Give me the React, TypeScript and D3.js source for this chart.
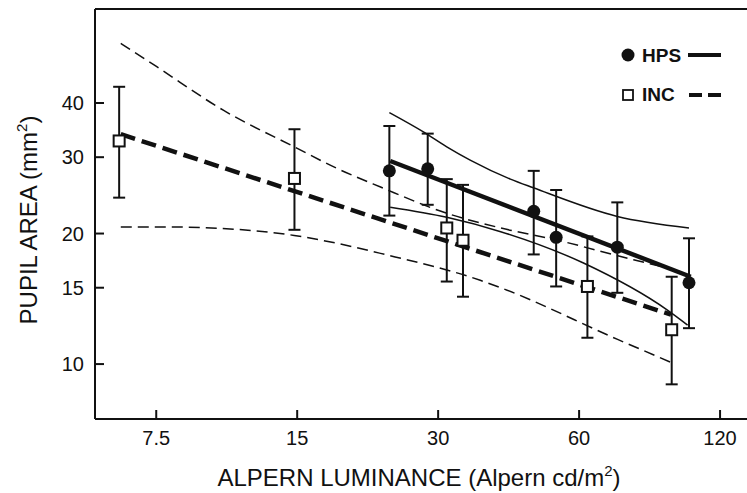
import React from "react";
import * as d3 from "d3";

// Axis ticks
const xTicks = [7.5, 15, 30, 60, 120];
const yTicks = [10, 15, 20, 30, 40];

// HPS (filled circles)
const hpsLum = [23.6, 28.5, 48.0, 53.6, 72.4, 103];
const hpsArea = [27.9, 28.2, 22.5, 19.6, 18.6, 15.4];
const hpsHigh = [35.4, 34.0, 27.9, 25.2, 23.6, 19.5];
const hpsLow = [22.0, 23.3, 17.9, 15.1, 14.6, 12.1];

// INC (open squares)
const incLum = [6.25, 14.8, 31.3, 33.9, 62.5, 94.6];
const incArea = [32.7, 26.8, 20.6, 19.3, 15.1, 12.0];
const incHigh = [43.6, 34.8, 26.7, 25.9, 19.7, 15.9];
const incLow = [24.2, 20.4, 15.5, 14.3, 11.5, 8.98];

// Regression lines
const hpsFitLum = [23.7, 103.9];
const hpsFitArea = [29.4, 15.9];
const incFitLum = [6.3, 94.3];
const incFitArea = [33.9, 13.0];

// Confidence bands
const hpsUpperLum = [23.6, 27.9, 31.3, 35.2, 42.8, 47.9, 72.4, 103];
const hpsUpperArea = [38.0, 34.3, 31.7, 29.5, 26.7, 25.5, 21.9, 20.6];
const hpsLowerLum = [23.7, 31.3, 40.8, 61.3, 92.8, 102.3];
const hpsLowerArea = [23.0, 21.8, 20.2, 17.1, 13.3, 12.3];
const incUpperLum = [6.3, 7.52, 10.43, 14.78, 18.2, 22.6, 31.2, 40.8, 52.9, 78.4, 94.1];
const incUpperArea = [54.9, 48.5, 38.5, 31.7, 28.3, 25.6, 22.3, 20.6, 19.4, 17.4, 16.6];
const incLowerLum = [6.3, 8.15, 10.78, 14.78, 18.2, 22.6, 36.9, 40.8, 72.5, 94.1];
const incLowerArea = [20.7, 20.7, 20.5, 19.8, 19.0, 18.0, 15.6, 15.0, 11.4, 10.1];

const W = 747;
const H = 493;
const left = 95;
const right = 747;
const top = 9;
const bottom = 419;
const FONT = "'Liberation Sans', Arial, Helvetica, sans-serif";

export default function App() {
  const x = d3.scaleLog().domain([5.55, 137]).range([left, right]);
  const y = d3.scaleLog().domain([7.47, 65.9]).range([bottom, top]);

  const curve = (xs: number[], ys: number[]) =>
    d3
      .line<number>()
      .x((_, i) => x(xs[i]))
      .y((_, i) => y(ys[i]))
      .curve(d3.curveMonotoneX)(xs) as string;

  const straight = (xs: number[], ys: number[]) =>
    d3
      .line<number>()
      .x((_, i) => x(xs[i]))
      .y((_, i) => y(ys[i]))(xs) as string;

  const errBars = (xs: number[], lo: number[], hi: number[], key: string) =>
    xs.map((v, i) => (
      <g key={key + i} stroke="#111" strokeWidth={2}>
        <line x1={x(v)} x2={x(v)} y1={y(lo[i])} y2={y(hi[i])} />
        <line x1={x(v) - 6} x2={x(v) + 6} y1={y(lo[i])} y2={y(lo[i])} />
        <line x1={x(v) - 6} x2={x(v) + 6} y1={y(hi[i])} y2={y(hi[i])} />
      </g>
    ));

  return (
    <svg
      width={W}
      height={H}
      style={{ position: "absolute", left: 0, top: 0, background: "#fff" }}
      fontFamily={FONT}
    >
      <rect x={0} y={0} width={W} height={H} fill="#fff" />
      {/* frame */}
      <g stroke="#111" strokeWidth={2} fill="none">
        <line x1={left} x2={right} y1={top} y2={top} />
        <line x1={left} x2={left} y1={top} y2={bottom} />
        <line x1={left} x2={right} y1={bottom} y2={bottom} />
      </g>
      {/* y ticks */}
      {yTicks.map((t) => (
        <g key={"yt" + t}>
          <line x1={left} x2={left + 9} y1={y(t)} y2={y(t)} stroke="#111" strokeWidth={2} />
          <text x={left - 11} y={y(t) + 7} textAnchor="end" fontSize={20} fill="#111">
            {t}
          </text>
        </g>
      ))}
      {/* x ticks */}
      {xTicks.map((t) => (
        <g key={"xt" + t}>
          <line x1={x(t)} x2={x(t)} y1={bottom} y2={bottom - 9} stroke="#111" strokeWidth={2} />
          <text x={x(t)} y={445} textAnchor="middle" fontSize={20} fill="#111">
            {t}
          </text>
        </g>
      ))}
      {/* axis titles */}
      <text x={419} y={486} textAnchor="middle" fontSize={24} fill="#111">
        ALPERN LUMINANCE (Alpern cd/m
        <tspan fontSize={15} dy={-10}>2</tspan>
        <tspan dy={10}>)</tspan>
      </text>
      <text
        transform={`translate(37,220) rotate(-90)`}
        textAnchor="middle"
        fontSize={24}
        fill="#111"
      >
        PUPIL AREA (mm
        <tspan fontSize={15} dy={-10}>2</tspan>
        <tspan dy={10}>)</tspan>
      </text>

      {/* confidence bands */}
      <g fill="none" stroke="#111" strokeWidth={1.5}>
        <path d={curve(hpsUpperLum, hpsUpperArea)} />
        <path d={curve(hpsLowerLum, hpsLowerArea)} />
        <path d={curve(incUpperLum, incUpperArea)} strokeDasharray="11,6" />
        <path d={curve(incLowerLum, incLowerArea)} strokeDasharray="11,6" />
      </g>
      {/* regression lines */}
      <path d={straight(hpsFitLum, hpsFitArea)} fill="none" stroke="#111" strokeWidth={4.5} />
      <path
        d={straight(incFitLum, incFitArea)}
        fill="none"
        stroke="#111"
        strokeWidth={4.5}
        strokeDasharray="15,7"
      />

      {/* error bars */}
      {errBars(incLum, incLow, incHigh, "ie")}
      {errBars(hpsLum, hpsLow, hpsHigh, "he")}

      {/* markers */}
      {hpsLum.map((v, i) => (
        <circle key={"hc" + i} cx={x(v)} cy={y(hpsArea[i])} r={6.5} fill="#111" />
      ))}
      {incLum.map((v, i) => (
        <rect
          key={"ir" + i}
          x={x(v) - 5.5}
          y={y(incArea[i]) - 5.5}
          width={11}
          height={11}
          fill="#fff"
          stroke="#111"
          strokeWidth={2}
        />
      ))}

      {/* legend */}
      <g>
        <circle cx={628} cy={55} r={6.5} fill="#111" />
        <text x={642} y={62} fontSize={19} fontWeight="bold" fill="#111">
          HPS
        </text>
        <line x1={688} x2={721} y1={55} y2={55} stroke="#111" strokeWidth={4} />
        <rect x={623} y={90} width={10} height={10} fill="#fff" stroke="#111" strokeWidth={1.8} />
        <text x={642} y={101} fontSize={19} fontWeight="bold" fill="#111">
          INC
        </text>
        <line
          x1={689}
          x2={721}
          y1={95}
          y2={95}
          stroke="#111"
          strokeWidth={4}
          strokeDasharray="13,6"
        />
      </g>
    </svg>
  );
}
